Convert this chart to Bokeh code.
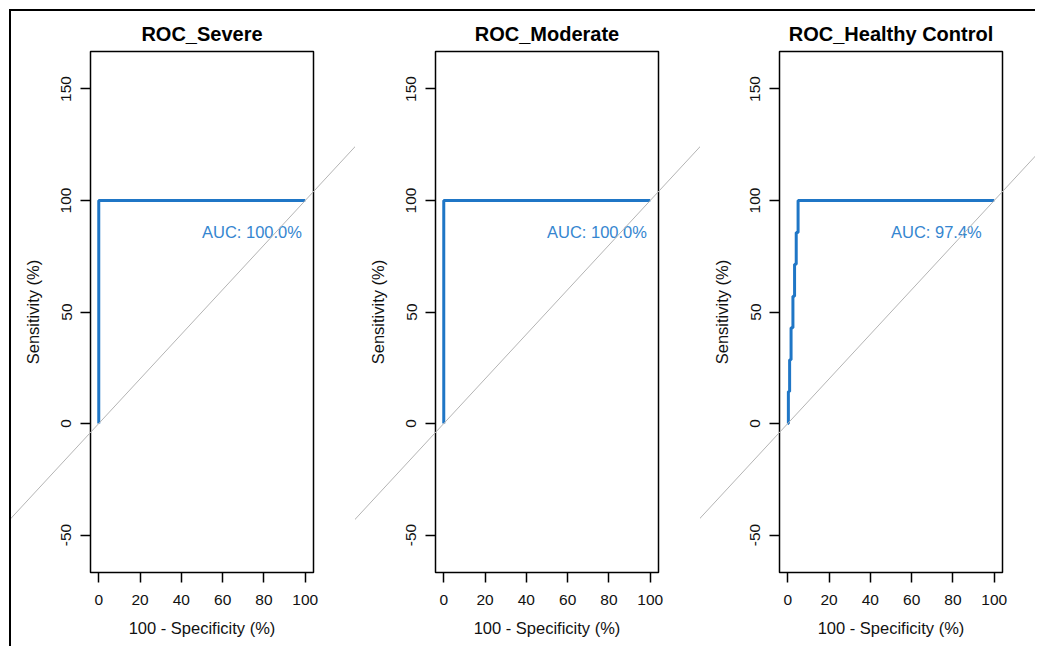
from bokeh.plotting import figure
from bokeh.layouts import row, column
from bokeh.models import Range1d, FixedTicker
from bokeh.core.properties import value
from bokeh.embed import file_html
from bokeh.resources import INLINE

# ---- data ----
titles = ["ROC_Severe", "ROC_Moderate", "ROC_Healthy Control"]
auc_values = [100.0, 100.0, 97.4]

fpr_severe = [0, 0, 100]
sens_severe = [0, 100, 100]

fpr_moderate = [0, 0, 100]
sens_moderate = [0, 100, 100]

fpr_healthy = [0, 0.3, 0.3, 0.9, 0.9, 1.6, 1.6, 2.5, 2.5, 3.3, 3.3, 4.1, 4.1, 5.0, 5.0, 100]
sens_healthy = [0, 0, 14.3, 14.3, 28.6, 28.6, 42.9, 42.9, 57.1, 57.1, 71.4, 71.4, 85.7, 85.7, 100, 100]

x_ticks = [0, 20, 40, 60, 80, 100]
y_ticks = [-50, 0, 50, 100, 150]
chance_x = [-100, 200]
chance_y = [-100, 200]

curves = [(fpr_severe, sens_severe), (fpr_moderate, sens_moderate), (fpr_healthy, sens_healthy)]

FONT = "Liberation Sans"
BLUE = "#1f76c6"
widths = [344, 345, 335]
lefts = [79, 80, 79]
FRAME_W = 223
FIG_H = 635

figs = []
for i, (title, auc, (fx, sy)) in enumerate(zip(titles, auc_values, curves)):
    W = widths[i]
    p = figure(width=W, height=FIG_H, output_backend="svg", toolbar_location=None,
               x_range=Range1d(-4, 104), y_range=Range1d(-66.8, 166.8),
               min_border_left=lefts[i], min_border_right=W - lefts[i] - FRAME_W,
               min_border_top=40, min_border_bottom=74,
               title=title, background_fill_color="white", border_fill_color="white")
    p.title.align = "center"
    p.title.text_font = FONT
    p.title.text_font_size = "20px"
    p.title.text_font_style = "bold"
    p.title.text_color = "black"
    p.title.standoff = 13
    p.grid.visible = False
    p.outline_line_color = "black"
    p.outline_line_width = 1.5
    p.outline_line_alpha = 1.0

    for ax in (p.xaxis[0], p.yaxis[0]):
        ax.axis_line_color = None
        ax.major_tick_line_color = "black"
        ax.major_tick_line_width = 1.5
        ax.major_tick_in = 0
        ax.major_tick_out = 10
        ax.minor_tick_line_color = None
        ax.major_label_text_font = FONT
        ax.major_label_text_font_size = "15.5px"
        ax.major_label_text_color = "#111111"
        ax.axis_label_text_font = FONT
        ax.axis_label_text_font_size = "16.5px"
        ax.axis_label_text_font_style = "normal"
        ax.axis_label_text_color = "#111111"

    p.xaxis.ticker = FixedTicker(ticks=x_ticks)
    p.yaxis.ticker = FixedTicker(ticks=y_ticks)
    p.xaxis.major_label_overrides = {t: str(t) for t in x_ticks}
    p.yaxis.major_label_overrides = {t: str(t) for t in y_ticks}
    p.xaxis.axis_label = "100 - Specificity (%)"
    p.yaxis.axis_label = "Sensitivity (%)"
    p.yaxis.major_label_orientation = "vertical"
    p.xaxis.major_label_standoff = 12
    p.yaxis.major_label_standoff = 9
    p.xaxis.axis_label_standoff = 11
    p.yaxis.axis_label_standoff = 17

    p.line(chance_x, chance_y, line_color="#b4b4b4", line_width=1, level="overlay")
    p.line(fx, sy, line_color=BLUE, line_width=3)
    p.text(x=[50], y=[86], text=[f"AUC: {auc:.1f}%"], text_font=value(FONT),
           text_font_size="16.5px", text_color="#3586d0", text_align="left",
           text_baseline="middle")
    figs.append(p)

inner = row(*figs, styles={"border-top": "2px solid black", "border-left": "2px solid black"})
layout = column(inner, styles={"padding-top": "9px", "padding-left": "9px", "background-color": "white"})

open("out.html", "w").write(file_html(layout, INLINE))
